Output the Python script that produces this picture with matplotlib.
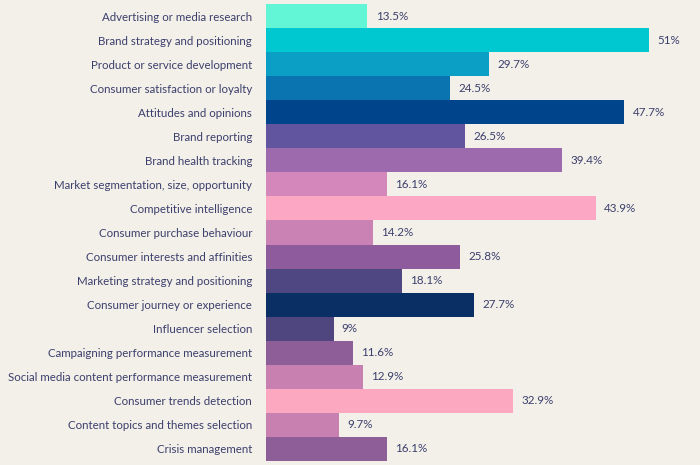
import matplotlib.pyplot as plt

# survey results, top to bottom
categories = [
    "Advertising or media research",
    "Brand strategy and positioning",
    "Product or service development",
    "Consumer satisfaction or loyalty",
    "Attitudes and opinions",
    "Brand reporting",
    "Brand health tracking",
    "Market segmentation, size, opportunity",
    "Competitive intelligence",
    "Consumer purchase behaviour",
    "Consumer interests and affinities",
    "Marketing strategy and positioning",
    "Consumer journey or experience",
    "Influencer selection",
    "Campaigning performance measurement",
    "Social media content performance measurement",
    "Consumer trends detection",
    "Content topics and themes selection",
    "Crisis management",
]
values = [13.5, 51, 29.7, 24.5, 47.7, 26.5, 39.4, 16.1, 43.9, 14.2,
          25.8, 18.1, 27.7, 9, 11.6, 12.9, 32.9, 9.7, 16.1]
value_labels = ["13.5%", "51%", "29.7%", "24.5%", "47.7%", "26.5%", "39.4%",
                "16.1%", "43.9%", "14.2%", "25.8%", "18.1%", "27.7%", "9%",
                "11.6%", "12.9%", "32.9%", "9.7%", "16.1%"]
colors = ["#62f5d6", "#00c8d0", "#0b9fc6", "#0a74b0", "#00458c", "#62559f",
          "#9e6aae", "#d387bb", "#fca8c4", "#c982b3", "#8e5c9c", "#4e4782",
          "#0a2f64", "#4f4680", "#8d5e98", "#c880b0", "#fca8c0", "#c880b0",
          "#8d5e98"]

bg = "#f3f0ea"
txt = "#3b3f6b"
plt.rcParams['font.family'] = ['Lato', 'DejaVu Sans']

fig = plt.figure(figsize=(7, 4.65), dpi=100, facecolor=bg)
ax = fig.add_axes([0.38, 0.0086, 0.62, 0.9828])
ax.set_facecolor(bg)

y = list(range(len(categories)))
ax.barh(y, values, height=1.0, color=colors)
for yi, v, lab in zip(y, values, value_labels):
    ax.text(v + 1.1, yi, lab, va='center', ha='left', fontsize=8.4, color=txt)

ax.set_yticks(y)
ax.set_yticklabels(categories, fontsize=8.3, color=txt)
ax.tick_params(axis='y', length=0, pad=10)
ax.set_xticks([])
ax.set_xlim(0, 57.8)
ax.set_ylim(len(categories) - 0.5, -0.5)
for s in ax.spines.values():
    s.set_visible(False)

fig.savefig("out.png", dpi=100, facecolor=bg)
